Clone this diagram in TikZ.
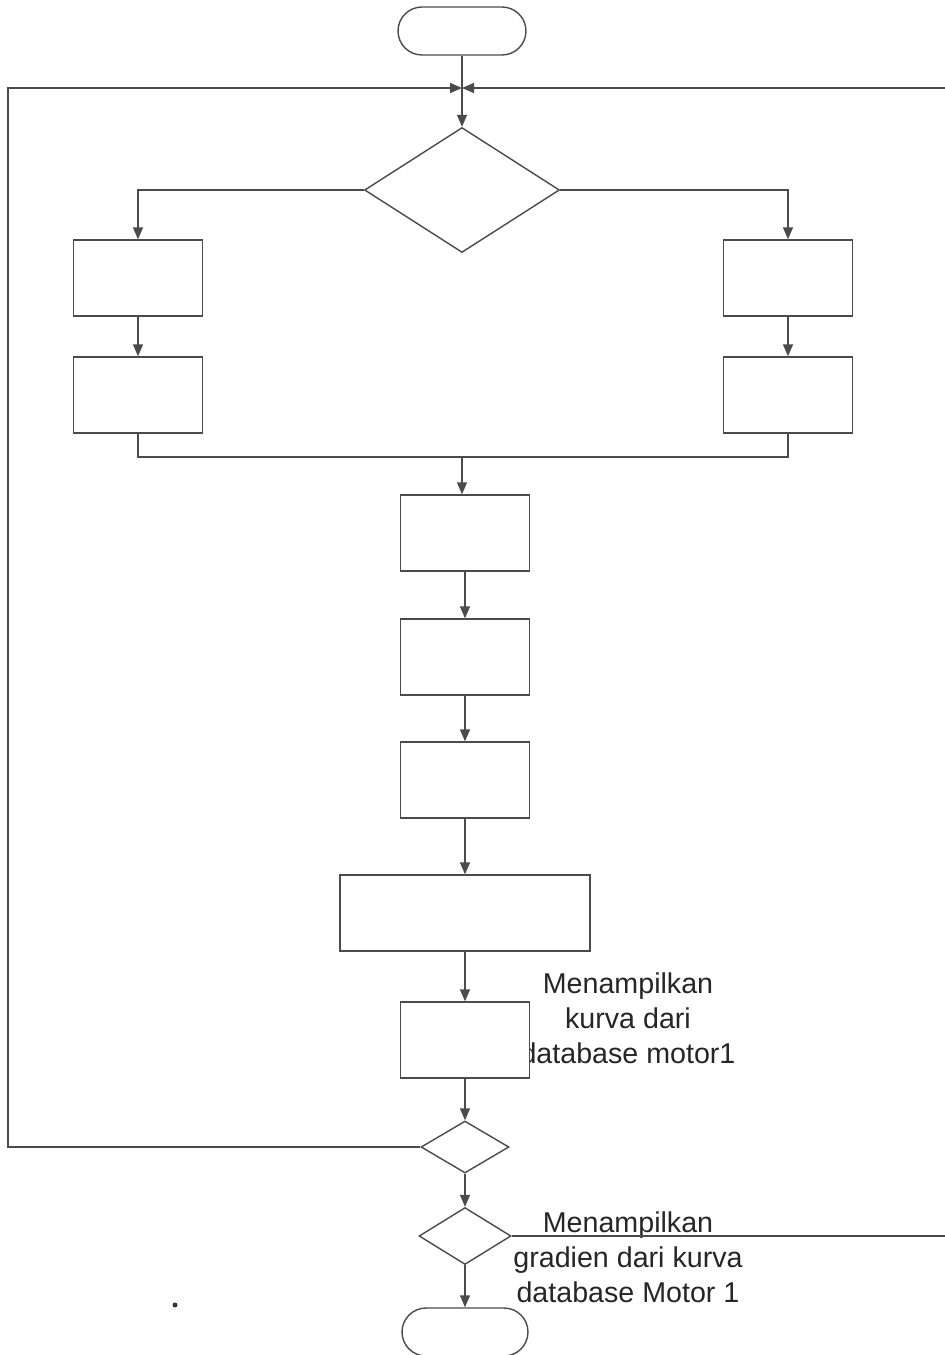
\documentclass[tikz,border=0pt]{standalone}
\usepackage{fontspec}
\setmainfont{Liberation Sans}
\usepackage{tikz}
\definecolor{linegray}{RGB}{75, 75, 75}
\usetikzlibrary{shapes.geometric, shapes.misc, arrows.meta}

\begin{document}
\begin{tikzpicture}[x=0.02cm, y=-0.02cm,
    box/.style={draw=linegray, line width=0.8pt, fill=white, inner sep=0pt,
                minimum width=2.58cm, minimum height=1.52cm},
    choice/.style={draw=linegray, line width=0.8pt, diamond, inner sep=0pt},
    term/.style={draw=linegray, line width=0.8pt, rounded rectangle, inner sep=0pt,
                 minimum width=2.56cm, minimum height=0.96cm},
    flow/.style={draw=linegray, line width=0.8pt, -{Triangle[length=0.24cm, width=0.2cm]}},
    wire/.style={draw=linegray, line width=0.8pt},
    note/.style={align=center, font=\fontsize{16.3}{19.8}\selectfont, text=black!85}
]
    \useasboundingbox (0,0) rectangle (945,1355);

    \node[term] (start) at (462,31) {};
    \coordinate (join) at (462,88);
    \coordinate (lc) at (8,88);
    \coordinate (rc) at (945,88);
    \coordinate (rb) at (945,1236);

    \node[choice, minimum width=3.9cm, minimum height=2.5cm] (pilih) at (462,190) {};

    \node[box] (l1) at (138,278) {};
    \node[box] (l2) at (138,395) {};
    \node[box] (r1) at (788,278) {};
    \node[box] (r2) at (788,395) {};
    \coordinate (gabung) at (462,457);

    \node[box] (p1) at (465,533) {};
    \node[box] (p2) at (465,657) {};
    \node[box] (p3) at (465,780) {};
    \node[box, minimum width=5cm] (p4) at (465,913) {};

    \node[note] (kurva) at (628,1018) {Menampilkan\\kurva dari\\database motor1};
    \node[box] (p5) at (465,1040) {};

    \node[choice, minimum width=1.76cm, minimum height=1.04cm] (ulang) at (465,1147) {};
    \node[choice, minimum width=1.84cm, minimum height=1.14cm] (grad) at (465,1236) {};
    \node[note] (gradien) at (628,1257) {Menampilkan\\gradien dari kurva\\database Motor 1};
    \node[term, minimum width=2.52cm] (stop) at (465,1332) {};

    \fill[black!80] (175,1305) circle (2.5);

    \draw[flow] (start) -- (pilih);
    \draw[flow] (ulang.west) -| (lc) -- (join);
    \draw[wire] (grad.east) -- (rb);
    \draw[flow] (rc) -- (join);

    \draw[flow] (pilih.west) -| (l1);
    \draw[flow] (pilih.east) -| (r1);
    \draw[flow] (l1) -- (l2);
    \draw[flow] (r1) -- (r2);
    \draw[wire] (l2.south) |- (gabung) -| (r2.south);
    \draw[flow] (gabung) -- (gabung |- p1.north);

    \draw[flow] (p1) -- (p2);
    \draw[flow] (p2) -- (p3);
    \draw[flow] (p3) -- (p4);
    \draw[flow] (p4) -- (p5);
    \draw[flow] (p5) -- (ulang);
    \draw[flow] (ulang) -- (grad);
    \draw[flow] (grad) -- (stop);
\end{tikzpicture}
\end{document}
